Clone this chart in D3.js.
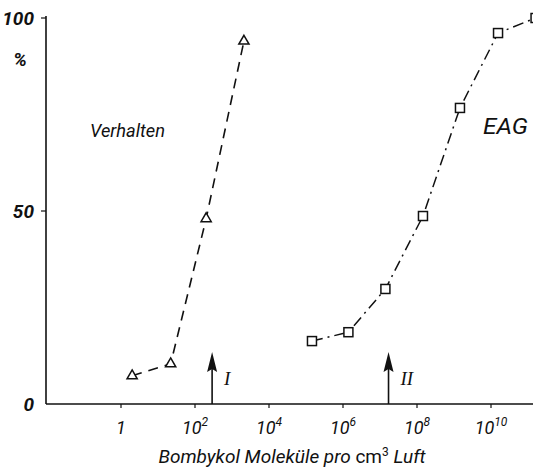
<!DOCTYPE html>
<html>
<head>
<meta charset="utf-8">
<script src="https://cdn.jsdelivr.net/npm/d3@7"></script>
<style>
  body { margin: 0; background: #fff; }
  text { font-family: "Roboto", "DejaVu Sans", sans-serif; font-style: italic; fill: #111; }
</style>
</head>
<body>
<svg id="chart" width="533" height="471"></svg>
<script>
// Verhalten (behaviour) - triangles, dashed
const verhaltenX = [2, 22, 200, 2100];
const verhaltenY = [7.3, 10.4, 48, 94];

// EAG - squares, dash-dot
const eagX = [1.45e5, 1.4e6, 1.4e7, 1.45e8, 1.45e9, 1.55e10, 1.6e11];
const eagY = [16.3, 18.6, 29.8, 48.7, 76.7, 96.1, 100];

// threshold arrows
const arrowX = [290, 1.7e7];
const arrowLabels = ['I', 'II'];

const xTickExp = [0, 2, 4, 6, 8, 10];
const yTicks = [0, 50, 100];

const svg = d3.select('#chart');
const width = +svg.attr('width');

const x0 = 46, yBase = 404;

const xScale = d3.scaleLog()
    .domain([1e-2, 1e11])
    .range([47, 528]);

const yScale = d3.scaleLinear()
    .domain([0, 100])
    .range([yBase, 18]);

// axes
svg.append('line')
    .attr('x1', x0).attr('x2', width)
    .attr('y1', yBase).attr('y2', yBase)
    .attr('stroke', '#111').attr('stroke-width', 1.6);

svg.append('line')
    .attr('x1', x0).attr('x2', x0)
    .attr('y1', yScale(100) - 2).attr('y2', yBase)
    .attr('stroke', '#111').attr('stroke-width', 1.6);

// x ticks
svg.selectAll('.xtick').data(xTickExp)
    .enter().append('line')
    .attr('x1', d => xScale(Math.pow(10, d)))
    .attr('x2', d => xScale(Math.pow(10, d)))
    .attr('y1', yBase).attr('y2', yBase + 4)
    .attr('stroke', '#111').attr('stroke-width', 1.2);

const xl = svg.selectAll('.xlab').data(xTickExp)
    .enter().append('text')
    .attr('x', d => xScale(Math.pow(10, d)))
    .attr('y', 434)
    .attr('text-anchor', 'middle')
    .style('font-size', '18px');

xl.each(function(d) {
    const t = d3.select(this);
    if (d === 0) {
        t.text('1');
    } else {
        t.append('tspan').text('10');
        t.append('tspan').attr('dy', -8).style('font-size', '12px').text(d);
    }
});

// y ticks
svg.selectAll('.ytick').data(yTicks.filter(d => d > 0))
    .enter().append('line')
    .attr('x1', x0 - 5).attr('x2', x0)
    .attr('y1', d => yScale(d)).attr('y2', d => yScale(d))
    .attr('stroke', '#111').attr('stroke-width', 1.2);

svg.selectAll('.ylab').data(yTicks)
    .enter().append('text')
    .attr('x', 34)
    .attr('y', d => yScale(d) + 7)
    .attr('text-anchor', 'end')
    .style('font-size', '19px')
    .style('font-weight', 'bold')
    .text(d => d);

svg.append('text')
    .attr('x', 20).attr('y', 66)
    .attr('text-anchor', 'middle')
    .style('font-size', '19px')
    .style('font-weight', 'bold')
    .text('%');

// axis title
const title = svg.append('text')
    .attr('x', 292).attr('y', 463)
    .attr('text-anchor', 'middle')
    .style('font-size', '19px');
title.append('tspan').text('Bombykol Moleküle pro ');
title.append('tspan').style('font-style', 'normal').text('cm');
title.append('tspan').attr('dy', -7).style('font-size', '12px').style('font-style', 'normal').text('3');
title.append('tspan').attr('dy', 7).text(' Luft');

// lines
const line = d3.line()
    .x(d => xScale(d[0]))
    .y(d => yScale(d[1]));

const vData = d3.zip(verhaltenX, verhaltenY);
const eData = d3.zip(eagX, eagY);

svg.append('path')
    .datum(vData)
    .attr('d', line)
    .attr('fill', 'none')
    .attr('stroke', '#111')
    .attr('stroke-width', 1.6)
    .attr('stroke-dasharray', '10,7');

svg.append('path')
    .datum(eData)
    .attr('d', line)
    .attr('fill', 'none')
    .attr('stroke', '#111')
    .attr('stroke-width', 1.5)
    .attr('stroke-dasharray', '11,5,2,5');

// markers
const tri = d3.symbol().type(d3.symbolTriangle).size(45);
svg.selectAll('.tri').data(vData)
    .enter().append('path')
    .attr('d', tri)
    .attr('transform', d => `translate(${xScale(d[0])},${yScale(d[1])})`)
    .attr('fill', '#fff')
    .attr('stroke', '#111')
    .attr('stroke-width', 1.5);

svg.selectAll('.sq').data(eData)
    .enter().append('rect')
    .attr('x', d => xScale(d[0]) - 4.5)
    .attr('y', d => yScale(d[1]) - 4.5)
    .attr('width', 9).attr('height', 9)
    .attr('fill', '#fff')
    .attr('stroke', '#111')
    .attr('stroke-width', 1.5);

// arrows
arrowX.forEach((v, i) => {
    const ax = xScale(v);
    svg.append('line')
        .attr('x1', ax).attr('x2', ax)
        .attr('y1', yBase).attr('y2', 362)
        .attr('stroke', '#111').attr('stroke-width', 1.6);
    svg.append('path')
        .attr('d', `M${ax},352 L${ax - 5},372 L${ax},369 L${ax + 5},372 Z`)
        .attr('fill', '#111');
    svg.append('text')
        .attr('x', ax + 12).attr('y', 385)
        .style('font-size', '19px')
        .style('font-family', '"Liberation Serif", serif')
        .text(arrowLabels[i]);
});

// series labels
svg.append('text')
    .attr('x', 90).attr('y', 137)
    .attr('textLength', 75).attr('lengthAdjust', 'spacingAndGlyphs')
    .style('font-size', '19px')
    .text('Verhalten');

svg.append('text')
    .attr('x', 483).attr('y', 134)
    .attr('textLength', 45).attr('lengthAdjust', 'spacingAndGlyphs')
    .style('font-size', '22px')
    .text('EAG');
</script>
</body>
</html>
